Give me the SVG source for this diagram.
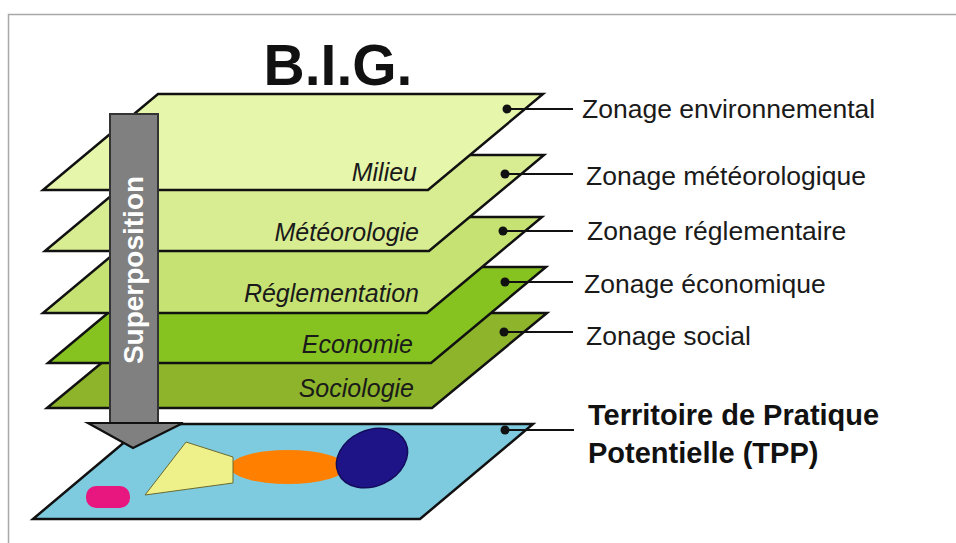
<svg xmlns="http://www.w3.org/2000/svg" width="956" height="543" viewBox="0 0 956 543">
<style>
.plane{stroke:#111;stroke-width:2.5;stroke-linejoin:miter}
.lbl{font-family:"Liberation Sans",Arial,sans-serif;font-style:italic;font-size:25px;fill:#1a1a1a;text-anchor:end}
.zone{font-family:"Liberation Sans",Arial,sans-serif;font-size:26.5px;fill:#1a1a1a}
.tpp{font-family:"Liberation Sans",Arial,sans-serif;font-size:29px;font-weight:bold;fill:#111}
.conn line{stroke:#111;stroke-width:2.2}
.conn circle{fill:#111}
</style>
<rect x="0" y="0" width="956" height="543" fill="#fff"/>
<path d="M8.5 543 V14.5 H956" fill="none" stroke="#a8a8a8" stroke-width="1.5"/>
<text x="338" y="85" font-family="Liberation Sans,Arial,sans-serif" font-size="57" font-weight="bold" text-anchor="middle" fill="#111">B.I.G.</text>

<g id="tpp">
<polygon class="plane" points="146,424 533,424 420,519 33,519" fill="#7ecbe0"/>
<ellipse cx="288" cy="467" rx="58" ry="17" fill="#ff8000"/>
<polygon points="186,442 233,457 233,483 145,495" fill="#eef08a" stroke="#6a6a30" stroke-width="1"/>
<ellipse cx="372" cy="458" rx="37" ry="28" transform="rotate(-25 372 458)" fill="#1e1488" stroke="#120c5a" stroke-width="1.5"/>
<rect x="86" y="486" width="44" height="22" rx="10" fill="#e8177f"/>
</g>
<g id="sociologie">
<polygon class="plane" points="162,313 547,313 432,408 47,408" fill="#8db42b"/>
<text class="lbl" x="414" y="397">Sociologie</text>
</g>
<g id="economie">
<polygon class="plane" points="163,267 546,267 431,363 48,363" fill="#86c320"/>
<text class="lbl" x="413" y="353">Economie</text>
</g>
<g id="reglementation">
<polygon class="plane" points="158,217 542,217 427,313 43,313" fill="#c6e272"/>
<text class="lbl" x="419" y="302">Réglementation</text>
</g>
<g id="meteorologie">
<polygon class="plane" points="160,155 544,155 429,251 45,251" fill="#d8ed92"/>
<text class="lbl" x="419" y="241">Météorologie</text>
</g>
<g id="milieu">
<polygon class="plane" points="158,94 543,94 428,190 43,190" fill="#e6f6aa"/>
<text class="lbl" x="417" y="181">Milieu</text>
</g>

<g id="connectors" class="conn">
<line x1="507" y1="109" x2="573" y2="109"/><circle cx="507" cy="109" r="4.5"/>
<line x1="505" y1="174" x2="573" y2="174"/><circle cx="505" cy="174" r="4.5"/>
<line x1="503" y1="231" x2="573" y2="231"/><circle cx="503" cy="231" r="4.5"/>
<line x1="505" y1="282" x2="573" y2="282"/><circle cx="505" cy="282" r="4.5"/>
<line x1="504" y1="332" x2="573" y2="332"/><circle cx="504" cy="332" r="4.5"/>
<line x1="505" y1="430" x2="574" y2="430"/><circle cx="505" cy="430" r="4.5"/>
</g>

<g id="labels">
<text class="zone" x="582" y="118">Zonage environnemental</text>
<text class="zone" x="586" y="185">Zonage météorologique</text>
<text class="zone" x="587" y="240">Zonage réglementaire</text>
<text class="zone" x="584" y="293">Zonage économique</text>
<text class="zone" x="586" y="345">Zonage social</text>
<text class="tpp" x="588" y="425">Territoire de Pratique</text>
<text class="tpp" x="588" y="463">Potentielle (TPP)</text>
</g>

<g id="arrow">
<rect x="110" y="114" width="48" height="309" fill="#808080" stroke="#333" stroke-width="2"/>
<polygon points="88,423 183,423 133,448" fill="#808080" stroke="#111" stroke-width="2.2" stroke-linejoin="miter"/>
<text transform="translate(143,270) rotate(-90)" font-family="Liberation Sans,Arial,sans-serif" font-size="28" font-weight="bold" text-anchor="middle" fill="#fff">Superposition</text>
</g>
</svg>
